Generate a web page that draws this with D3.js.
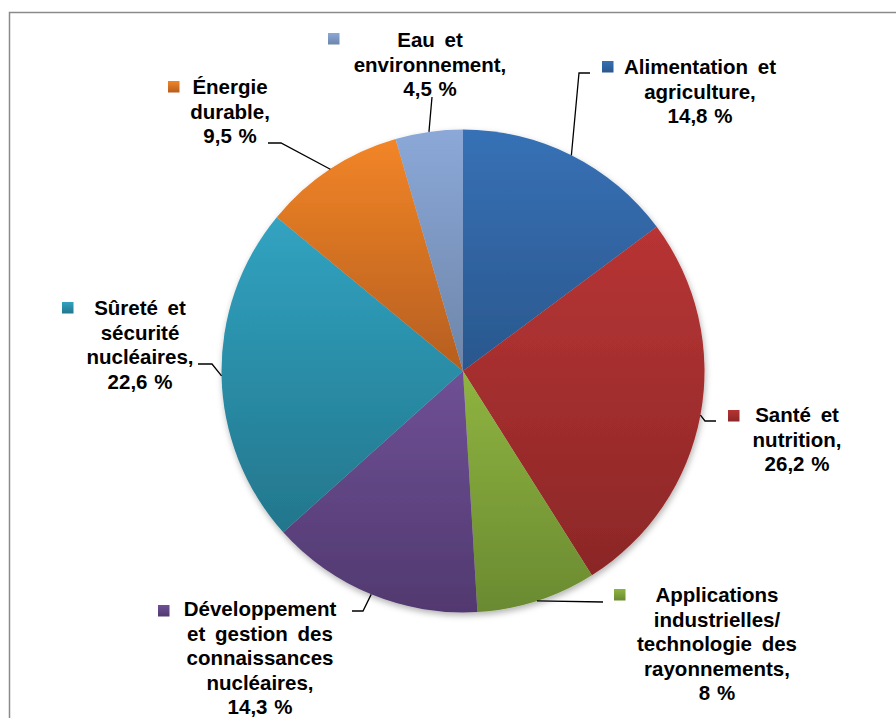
<!DOCTYPE html>
<html>
<head>
<meta charset="utf-8">
<script src="https://cdn.jsdelivr.net/npm/d3@7"></script>
<style>
  html, body { margin: 0; padding: 0; background: #fff; }
  svg { display: block; }
  .lbl { font-family: "Liberation Sans", Arial, sans-serif; font-weight: bold; font-size: 20.5px; fill: #000; }
</style>
</head>
<body>
<svg id="chart" width="896" height="718"></svg>
<script>
// Répartition du programme par domaine (%)
const categories = [
  "Alimentation et agriculture",
  "Santé et nutrition",
  "Applications industrielles/ technologie des rayonnements",
  "Développement et gestion des connaissances nucléaires",
  "Sûreté et sécurité nucléaires",
  "Énergie durable",
  "Eau et environnement"
];
const values = [14.8, 26.2, 8, 14.3, 22.6, 9.5, 4.5];

// Label text, line by line (last line shows the value)
const labelLines = [
  ["Alimentation et", "agriculture,"],
  ["Santé et", "nutrition,"],
  ["Applications", "industrielles/", "technologie des", "rayonnements,"],
  ["Développement", "et gestion des", "connaissances", "nucléaires,"],
  ["Sûreté et", "sécurité", "nucléaires,"],
  ["Énergie", "durable,"],
  ["Eau et", "environnement,"]
];

// Slice colours: light (top) and dark (bottom) gradient stops
const paletteTop    = ["#3771B6", "#B83434", "#8FB440", "#6F5096", "#31A3C1", "#F28527", "#8BA8D8"];
const paletteBottom = ["#2A578D", "#8B2727", "#6A8A31", "#51396F", "#23768C", "#B55E1F", "#6D85A8"];

// Label placement: text centre x, first baseline y, key square, leader bend points
const labelLayout = [
  { cx: 700, y: 74,  sq: [602, 61],  leader: [[579, 73], [590, 73]] },
  { cx: 797, y: 422, sq: [728, 410], leader: [[705, 421], [716, 421]] },
  { cx: 717, y: 602, sq: [614, 589], leader: [[603, 602]] },
  { cx: 260, y: 616, sq: [158, 605], leader: [[363, 611], [352, 611]] },
  { cx: 140, y: 315, sq: [62, 302],  leader: [[212, 364], [198, 364]] },
  { cx: 230, y: 94,  sq: [168, 81],  leader: [[281, 143], [268, 143]] },
  { cx: 430, y: 47,  sq: [328, 33],  leader: [[432, 97]] }
];

const fmt = v => String(v).replace(".", ",") + " %";

const svg = d3.select("#chart");
const cx = 463, cy = 371, R = 241.5;
const lineH = 24.6;

// Chart frame
svg.append("rect")
  .attr("x", 9.5).attr("y", 12.5)
  .attr("width", 1000).attr("height", 1000)
  .attr("fill", "none").attr("stroke", "#8a8a8a").attr("stroke-width", 1.5);

const defs = svg.append("defs");
categories.forEach((c, i) => {
  const g = defs.append("linearGradient")
    .attr("id", "grad" + i)
    .attr("x1", 0).attr("y1", 0).attr("x2", 0).attr("y2", 1);
  g.append("stop").attr("offset", "0%").attr("stop-color", paletteTop[i]);
  g.append("stop").attr("offset", "100%").attr("stop-color", paletteBottom[i]);
});
const shadow = defs.append("filter").attr("id", "shadow")
  .attr("x", "-10%").attr("y", "-10%").attr("width", "120%").attr("height", "120%");
shadow.append("feDropShadow")
  .attr("dx", 1).attr("dy", 3).attr("stdDeviation", 3)
  .attr("flood-color", "#000").attr("flood-opacity", 0.3);

const pie = d3.pie().sort(null).value(d => d.value);
const arcs = pie(values.map((v, i) => ({ value: v, i })));
const arc = d3.arc().innerRadius(0).outerRadius(R);

const gPie = svg.append("g")
  .attr("transform", `translate(${cx},${cy})`)
  .attr("filter", "url(#shadow)");

gPie.selectAll("path")
  .data(arcs)
  .join("path")
  .attr("d", arc)
  .attr("fill", d => `url(#grad${d.data.i})`);

// Leader lines from the arc at each slice's mid-angle
const edgePoint = d => {
  const a = (d.startAngle + d.endAngle) / 2;
  return [cx + R * Math.sin(a), cy - R * Math.cos(a)];
};

svg.append("g").selectAll("path")
  .data(arcs)
  .join("path")
  .attr("d", d => d3.line()([edgePoint(d), ...labelLayout[d.data.i].leader]))
  .attr("fill", "none")
  .attr("stroke", "#000")
  .attr("stroke-width", 1.3);

// Labels with key squares
const gLbl = svg.append("g");
arcs.forEach(d => {
  const i = d.data.i;
  const L = labelLayout[i];
  gLbl.append("rect")
    .attr("x", L.sq[0]).attr("y", L.sq[1])
    .attr("width", 11.5).attr("height", 11.5)
    .attr("fill", `url(#grad${i})`);
  const lines = labelLines[i].concat([fmt(values[i])]);
  const t = gLbl.append("text").attr("class", "lbl").attr("text-anchor", "middle");
  lines.forEach((ln, k) => {
    t.append("tspan")
      .attr("x", L.cx)
      .attr("y", L.y + k * lineH)
      .attr("word-spacing", k < lines.length - 1 ? 4 : 1)
      .text(ln);
  });
});
</script>
</body>
</html>
